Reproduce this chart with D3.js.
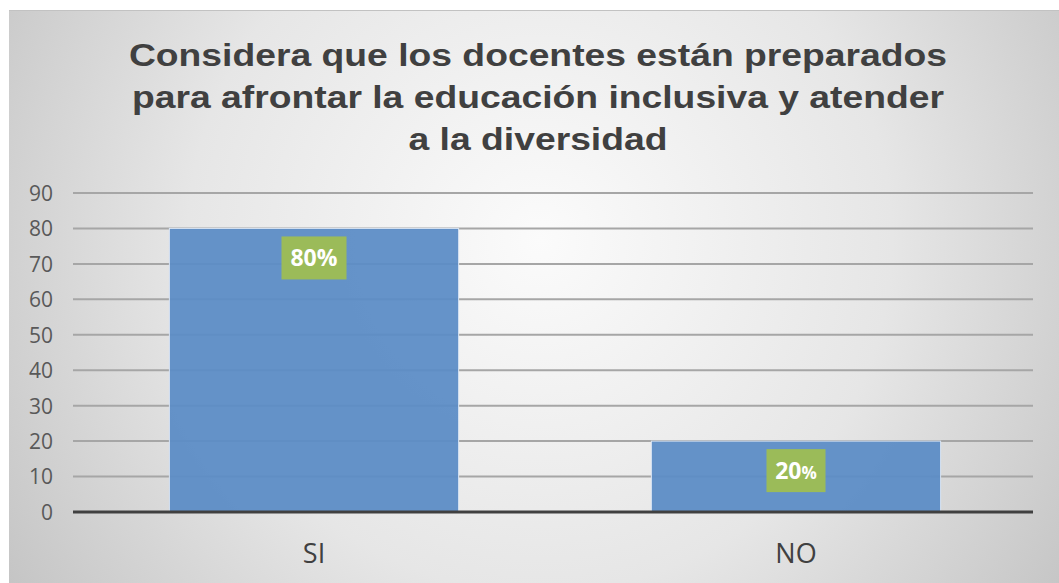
<!DOCTYPE html>
<html>
<head>
<meta charset="utf-8">
<script src="https://cdn.jsdelivr.net/npm/d3@7/dist/d3.min.js"></script>
<style>
html,body{margin:0;padding:0;background:#fff;}
svg{display:block;}
</style>
</head>
<body>
<svg id="chart" width="1059" height="583"></svg>
<script>
const titleLines = ["Considera que los docentes están preparados", "para afrontar la educación inclusiva y atender", "a la diversidad"];
const categories = ["SI", "NO"];
const values = [80, 20];
const labels = ["80", "20"];
const yTicks = [0, 10, 20, 30, 40, 50, 60, 70, 80, 90];

const svg = d3.select("#chart");
const W = 1059, H = 583;

const defs = svg.append("defs");
const grad = defs.append("radialGradient").attr("id", "bg")
  .attr("gradientUnits", "userSpaceOnUse")
  .attr("cx", 540).attr("cy", 240).attr("r", 640);
grad.append("stop").attr("offset", "0").attr("stop-color", "#fbfbfb");
grad.append("stop").attr("offset", "0.55").attr("stop-color", "#e6e6e6");
grad.append("stop").attr("offset", "1").attr("stop-color", "#c4c4c4");

svg.append("rect").attr("x", 9).attr("y", 10).attr("width", W - 9).attr("height", H - 10)
  .attr("fill", "url(#bg)");
svg.append("line").attr("x1", 9).attr("x2", W).attr("y1", 10.5).attr("y2", 10.5)
  .attr("stroke", "#c2c2c2").attr("stroke-width", 1);

// title (horizontally stretched like the reference)
const tcx = 538;
const title = svg.append("text").attr("text-anchor", "middle")
  .attr("transform", `translate(${tcx},0) scale(1.165,1)`)
  .attr("font-family", "Liberation Sans, Arial, sans-serif")
  .attr("font-weight", "bold").attr("font-size", 32).attr("fill", "#404040");
titleLines.forEach((t, i) => {
  title.append("tspan").attr("x", 0).attr("y", 66 + i * 42).text(t);
});

const x = d3.scaleBand().domain(categories).range([73, 1037]).paddingInner(0.4).paddingOuter(0.2);
const y = d3.scaleLinear().domain([0, 90]).range([512, 193]);

// gridlines
svg.append("g").selectAll("line").data(yTicks.filter(d => d > 0)).join("line")
  .attr("x1", 73).attr("x2", 1033)
  .attr("y1", d => y(d)).attr("y2", d => y(d))
  .attr("stroke", "#a6a6a6").attr("stroke-width", 2);

// y tick labels
const yAxis = d3.axisLeft(y).tickValues(yTicks).tickSize(0).tickPadding(0);
const ya = svg.append("g").attr("transform", "translate(53,0)").call(yAxis);
ya.select(".domain").remove();
ya.selectAll("text").attr("font-family", "Open Sans, sans-serif").attr("font-size", 21)
  .attr("fill", "#595959").attr("dy", "0.35em");

// bars
svg.append("g").selectAll("rect").data(values).join("rect")
  .attr("x", (d, i) => x(categories[i]))
  .attr("width", x.bandwidth())
  .attr("y", d => y(d))
  .attr("height", d => y(0) - y(d))
  .attr("fill", "#5b8cc6").attr("fill-opacity", 0.94)
  .attr("stroke", "#d6e3f3").attr("stroke-width", 1);

// axis line
svg.append("line").attr("x1", 73).attr("x2", 1033).attr("y1", y(0)).attr("y2", y(0))
  .attr("stroke", "#404040").attr("stroke-width", 3);

// x labels
const xAxis = d3.axisBottom(x).tickSize(0).tickPadding(0);
const xa = svg.append("g").attr("transform", "translate(0,563)").call(xAxis);
xa.select(".domain").remove();
xa.selectAll("text").attr("font-family", "Open Sans, sans-serif").attr("font-size", 27)
  .attr("fill", "#404040").attr("dy", 0);

// data labels
const lg = svg.append("g");
values.forEach((v, i) => {
  const cx = x(categories[i]) + x.bandwidth() / 2;
  const top = y(v) + 8;
  const w = i === 0 ? 65 : 59;
  lg.append("rect").attr("x", cx - w / 2).attr("y", top).attr("width", w).attr("height", 43)
    .attr("fill", "#9bbb59");
  const t = lg.append("text").attr("x", cx).attr("y", top + 30).attr("text-anchor", "middle")
    .attr("font-family", "Open Sans, sans-serif").attr("font-weight", "bold")
    .attr("font-size", 23).attr("fill", "#ffffff");
  t.append("tspan").text(labels[i]);
  t.append("tspan").attr("font-size", i === 0 ? 23 : 17).text("%");
});
</script>
</body>
</html>
